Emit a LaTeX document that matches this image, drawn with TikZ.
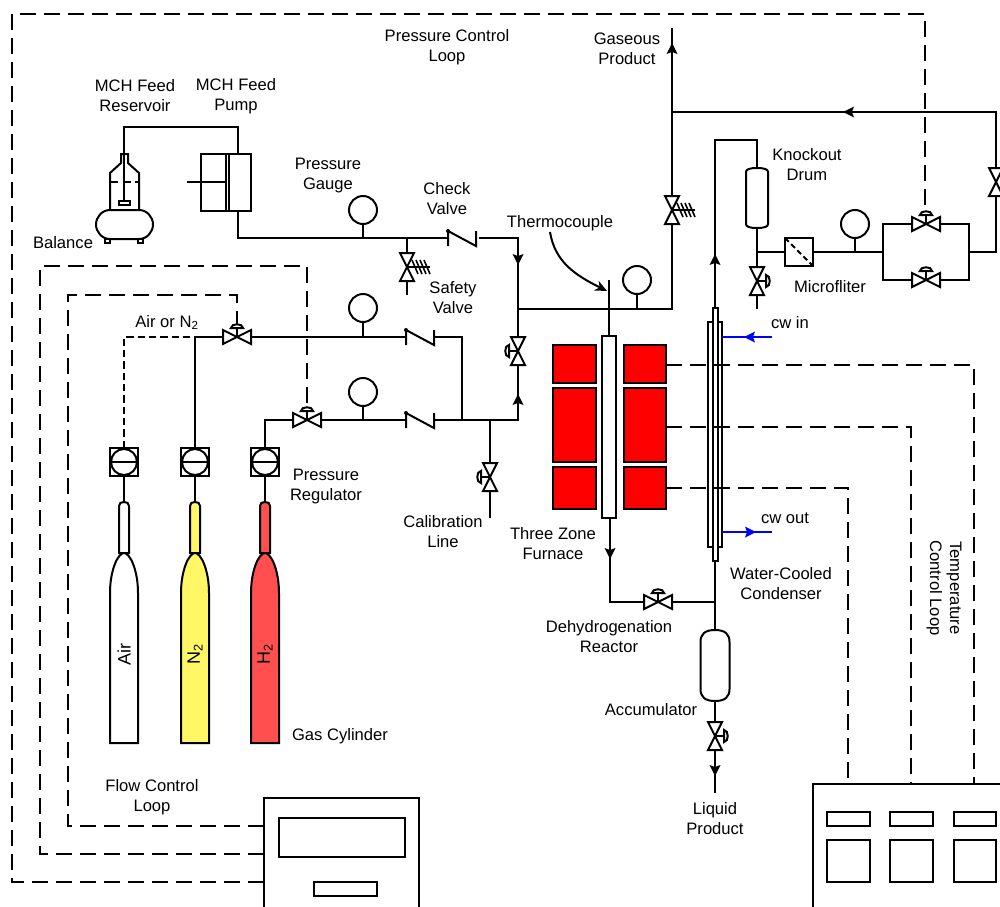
\documentclass[tikz,border=0pt]{standalone}
\usepackage{fontspec}
\setmainfont{Liberation Sans}
\usetikzlibrary{arrows.meta}
\tikzset{
  pipe/.style={line width=1.5pt,line join=miter},
  ctrl/.style={line width=1.5pt,dash pattern=on 12pt off 6pt},
  ctrlshort/.style={line width=1.5pt,dash pattern=on 5.5pt off 3pt},
  equip/.style={line width=1.5pt,fill=white},
  heat/.style={line width=1.5pt,fill=red},
  lbl/.style={inner sep=0pt,align=center,font=\fontsize{12.45}{15}\selectfont},
  gaslbl/.style={inner sep=0pt,rotate=90,font=\fontsize{13.5}{15}\selectfont},
  bowtie/.pic={\draw[equip] (-14,-7)--(14,7)--(14,-7)--(-14,7)--cycle;},
  valveD/.pic={
    \draw[equip] (-14,-7)--(14,7)--(14,-7)--(-14,7)--cycle;
    \draw[pipe] (0,0)--(0,-9);
    \draw[equip] (-6,-9) .. controls (-6,-14) and (6,-14) .. (6,-9) -- cycle;},
  valveS/.pic={
    \draw[equip] (-14,-7)--(14,7)--(14,-7)--(-14,7)--cycle;
    \draw[line width=1.2pt] (0,0)--(0,-23);
    \foreach \q in {-8,-12,-16,-20}{\draw[line width=1.2pt] (-7,\q+3)--(7,\q-3);}},
  tipA/.pic={\fill[pic actions] (0,0)--(-11,-5.5)--(-9,0)--(-11,5.5)--cycle;},
  checkV/.pic={
    \draw[pipe] (0,8)--(0,-7)--(28,8)--(28,-7);
    \fill (0,-7) circle[radius=2];},
  gaugeG/.pic={\draw[equip] (0,0) circle[radius=14];},
  regul/.pic={
    \draw[equip] (-14,-14) rectangle (14,14);
    \draw[equip] (0,0) circle[radius=13];
    \draw[pipe] (-14,0)--(14,0);},
}
\newcommand{\bottle}[4]{%
  \coordinate (#1reg) at (#2,462);
  \coordinate (#1regB) at (#2,476);
  \coordinate (#1neck) at (#2,502);
  \draw[pipe] (#1regB)--(#1neck);
  \draw[equip,fill=#3] (#2-5,553)--(#2-5,506) .. controls (#2-5,503) and (#2-3,502) .. (#2,502)
     .. controls (#2+3,502) and (#2+5,503) .. (#2+5,506)--(#2+5,553)--cycle;
  \draw[equip,fill=#3] (#2-14,743)--(#2-14,593) .. controls (#2-14,570) and (#2-6,553) .. (#2,553)
     .. controls (#2+6,553) and (#2+14,570) .. (#2+14,593)--(#2+14,743)--cycle;
  \pic at (#1reg) {regul};
  \node[gaslbl] (#1txt) at (#2,654) {#4};
}
\begin{document}
\begin{tikzpicture}[x=0.75pt,y=-0.75pt]
\useasboundingbox (0,0) rectangle (1000,907);
\fill[white] (0,0) rectangle (1000,907);
% ---- named points
\coordinate (fR) at (124,154); \coordinate (fA) at (124,127); \coordinate (fB) at (238,127);
\coordinate (fP) at (238,154); \coordinate (fQ) at (238,211); \coordinate (fC) at (238,238);
\coordinate (g1s) at (363,238); \coordinate (g1) at (363,210);
\coordinate (sv) at (407,267); \coordinate (svT) at (407,238); \coordinate (svB) at (407,295);
\coordinate (ck1) at (448,238); \coordinate (ck1R) at (479,238);
\coordinate (mT) at (518,238); \coordinate (mJ) at (518,309); \coordinate (mB) at (518,420);
\coordinate (mV) at (518,351);
\coordinate (h1) at (265,448); \coordinate (h2) at (265,420); \coordinate (ck3) at (406,420); \coordinate (ck3R) at (434,420);
\coordinate (n1) at (195,448); \coordinate (n2) at (195,337); \coordinate (ck2) at (406,337); \coordinate (ck2R) at (434,337);
\coordinate (a1) at (124,448); \coordinate (a2) at (124,337);
\coordinate (j1) at (462,337); \coordinate (j2) at (462,420);
\coordinate (vA) at (237,337); \coordinate (vH) at (307,420);
\coordinate (g2) at (363,308); \coordinate (g2s) at (363,337);
\coordinate (g3) at (363,392); \coordinate (g3s) at (363,420);
\coordinate (cal) at (490,420); \coordinate (calV) at (490,477); \coordinate (calB) at (490,518);
\coordinate (tE) at (672,309); \coordinate (tT) at (672,28); \coordinate (tV) at (672,210);
\coordinate (tJ) at (672,112); \coordinate (rT) at (996,112); \coordinate (rB) at (996,252); \coordinate (rV) at (996,182);
\coordinate (g4) at (637,280); \coordinate (g4s) at (637,309);
\coordinate (tc) at (609,280); \coordinate (tcB) at (609,336); \coordinate (tcJ) at (609,309);
\coordinate (rxB) at (610,518); \coordinate (rxC) at (610,602); \coordinate (cdJ) at (715,602);
\coordinate (vD) at (658,602);
\coordinate (cdT) at (715,308); \coordinate (cdU) at (715,140); \coordinate (kU) at (757,140);
\coordinate (kT) at (757,168); \coordinate (kB) at (757,228); \coordinate (kJ) at (757,252);
\coordinate (kV) at (757,281); \coordinate (kE) at (757,309);
\coordinate (mfL) at (785,252); \coordinate (mfR) at (813,252);
\coordinate (g5) at (855,224); \coordinate (g5s) at (855,252);
\coordinate (bL) at (883,252); \coordinate (bLT) at (883,224); \coordinate (bLB) at (883,280);
\coordinate (bR) at (969,252); \coordinate (bRT) at (969,224); \coordinate (bRB) at (969,280);
\coordinate (vU) at (926,224); \coordinate (vL) at (926,280);
\coordinate (cdB) at (715,561); \coordinate (acT) at (715,630); \coordinate (acB) at (715,700);
\coordinate (acV) at (715,736); \coordinate (acE) at (715,793);
% ---- process lines
\draw[pipe] (fR)--(fA)--(fB)--(fP);
\draw[pipe] (fQ)--(fC)--(ck1);
\draw[pipe] (ck1R)--(mT)--(mB)--(ck3R);
\draw[pipe] (ck3)--(h2)--(h1);
\draw[pipe] (n1)--(n2)--(ck2);
\draw[pipe] (ck2R)--(j1)--(j2);
\draw[pipe] (svT)--(svB);
\draw[pipe] (g1)--(g1s); \draw[pipe] (g2)--(g2s); \draw[pipe] (g3)--(g3s);
\draw[pipe] (cal)--(calB);
\draw[pipe] (mJ)--(tE)--(tT);
\draw[pipe] (tJ)--(rT)--(rB)--(bR);
\draw[pipe] (g4)--(g4s);
\draw[pipe] (tc)--(tcB);
\draw[pipe] (rxB)--(rxC)--(cdJ);
\draw[pipe] (cdT)--(cdU)--(kU)--(kT);
\draw[pipe] (kB)--(kE);
\draw[pipe] (kJ)--(mfL); \draw[pipe] (mfR)--(bL);
\draw[pipe] (g5)--(g5s);
\draw[pipe] (bLT)--(bRT)--(bRB)--(bLB)--cycle;
\draw[pipe] (cdB)--(acT); \draw[pipe] (acB)--(acE);
\draw[ctrlshort] (a1)--(a2)--(n2);
% ---- reservoir and balance
\draw[equip] (110,210)--(110,173)--(121,163)--(121,154)--(128,154)--(128,163)--(139,173)--(139,210);
\draw[pipe] (124,154)--(124,201);
\draw[line width=1.5pt,dash pattern=on 6pt off 3.5pt] (110,182)--(139,182);
\draw[equip] (119,201) rectangle (130,205);
\draw[equip] (110,210)--(139,210) .. controls (147,210) and (153,217) .. (153,224.5)
   .. controls (153,232) and (147,239) .. (139,239)--(110,239)
   .. controls (102,239) and (96,232) .. (96,224.5) .. controls (96,217) and (102,210) .. (110,210)--cycle;
\draw[equip] (105,239) rectangle (110,243); \draw[equip] (138,239) rectangle (143,243);
% ---- pump
\draw[equip] (201,154) rectangle (251,211);
\draw[pipe] (226,154)--(226,211); \draw[pipe] (229,154)--(229,211);
\draw[pipe] (187,182)--(226,182);
% ---- valves
\pic at (vA) {valveD};
\pic at (vH) {valveD};
\pic at (vD) {valveD};
\pic at (vU) {valveD};
\pic at (vL) {valveD};
\pic[rotate=90] at (mV) {valveD};
\pic[rotate=90] at (calV) {valveD};
\pic[rotate=-90] at (kV) {valveD};
\pic[rotate=-90] at (acV) {valveD};
\pic[rotate=-90] at (sv) {valveS};
\pic[rotate=-90] at (tV) {valveS};
\pic[rotate=90] at (rV) {bowtie};
\pic at (ck1) {checkV};
\pic at (ck2) {checkV};
\pic at (ck3) {checkV};
% ---- gauges
\pic at (g1) {gaugeG}; \pic at (g2) {gaugeG}; \pic at (g3) {gaugeG};
\pic at (g4) {gaugeG}; \pic at (g5) {gaugeG};
% ---- arrow heads
\pic[rotate=-90] at (518,265) {tipA};
\pic[rotate=90] at (518,394) {tipA};
\pic[rotate=90] at (672,43) {tipA};
\pic[rotate=180] at (843,112) {tipA};
\pic[rotate=90] at (715,254) {tipA};
\pic[rotate=-90] at (610,559) {tipA};
\pic[rotate=-90] at (715,776) {tipA};
% ---- bottles
\bottle{air}{124}{white}{Air}
\bottle{nit}{195}{yellow!60!white}{N\textsubscript{2}}
\bottle{hyd}{265}{red!69!white}{H\textsubscript{2}}
% ---- furnace and reactor
\draw[heat] (553,345) rectangle (596,383);
\draw[heat] (553,388) rectangle (596,462);
\draw[heat] (553,467) rectangle (596,509);
\draw[heat] (624,345) rectangle (666,383);
\draw[heat] (624,388) rectangle (666,462);
\draw[heat] (624,467) rectangle (666,509);
\draw[equip] (602,336) rectangle (616,518);
% ---- condenser
\draw[equip] (707.5,322) rectangle (722,547);
\draw[equip] (712.5,308) rectangle (717.5,561);
\coordinate (cwiE) at (772,337); \coordinate (cwiS) at (722,337);
\coordinate (cwoS) at (722,532); \coordinate (cwoE) at (772,532);
\draw[pipe,blue] (cwiE)--(cwiS);
\draw[pipe,blue] (cwoS)--(cwoE);
\pic[blue,rotate=180] at (744,337) {tipA};
\pic[blue] at (756,532) {tipA};
% ---- drum, accumulator, filter
\draw[equip] (746,172) .. controls (746,169.5) and (749,168) .. (757,168) .. controls (765,168) and (768,169.5) .. (768,172)
  --(768,224) .. controls (768,226.5) and (765,228) .. (757,228) .. controls (749,228) and (746,226.5) .. (746,224)--cycle;
\draw[equip] (700.5,642) .. controls (700.5,634) and (705,630) .. (715,630) .. controls (725,630) and (729.5,634) .. (729.5,642)
  --(729.5,689) .. controls (729.5,697) and (725,701) .. (715,701) .. controls (705,701) and (700.5,697) .. (700.5,689)--cycle;
\draw[equip] (785,238) rectangle (813,266);
\draw[line width=1.5pt,dash pattern=on 4pt off 2.5pt] (785,238)--(813,266);
% ---- controllers
\coordinate (cL1) at (264,826); \coordinate (cL2) at (264,854); \coordinate (cL3) at (264,882);
\draw[pipe] (264,910)--(264,798)--(419,798)--(419,910);
\draw[pipe] (279,818) rectangle (405,857);
\draw[pipe] (314,882) rectangle (377,896);
\draw[pipe] (813,910)--(813,784)--(1003,784);
\foreach \xa/\xb in {827/869.5,890/933,954/996}{
  \draw[pipe] (\xa,812) rectangle (\xb,826);
  \draw[pipe] (\xa,840) rectangle (\xb,882);
}
\coordinate (cR1) at (848,784); \coordinate (cR2) at (911,784); \coordinate (cR3) at (974,784);
% ---- control loops
\draw[ctrl] (cL3)--(12,882)--(12,14)--(925,14)--(925,211);
\draw[ctrl] (cL2)--(40,854)--(40,266)--(307,266)--(307,408);
\draw[ctrl] (cL1)--(68,826)--(68,295)--(237,295)--(237,325);
\draw[ctrl] (666,365)--(974,365)--(cR3);
\draw[ctrl] (666,427)--(911,427)--(cR2);
\draw[ctrl] (666,488)--(848,488)--(cR1);
% ---- labels
\node[lbl] (t1) at (447,47) {Pressure Control\\Loop};
\node[lbl] (t2) at (627,49) {Gaseous\\Product};
\node[lbl] (t3) at (135,96) {MCH Feed\\Reservoir};
\node[lbl] (t4) at (236,96) {MCH Feed\\Pump};
\node[lbl] (t5) at (328,176) {Pressure\\Gauge};
\node[lbl] (t6) at (447,199) {Check\\Valve};
\node[lbl] (t7) at (560,223) {Thermocouple};
\node[lbl] (t8) at (807,165) {Knockout\\Drum};
\node[lbl] (t9) at (63,243) {Balance};
\node[lbl] (t10) at (453,298) {Safety\\Valve};
\node[lbl] (t11) at (167,322.5) {Air or N\textsubscript{2}};
\node[lbl] (t12) at (830,287) {Microfliter};
\node[lbl] (t13) at (790,323) {cw in};
\node[lbl] (t14) at (785,518) {cw out};
\node[lbl] (t15) at (326,487) {Pressure\\Regulator};
\node[lbl] (t16) at (443,532) {Calibration\\Line};
\node[lbl] (t17) at (553,544) {Three Zone\\Furnace};
\node[lbl] (t18) at (609,637) {Dehydrogenation\\Reactor};
\node[lbl] (t19) at (781,584) {Water-Cooled\\Condenser};
\node[lbl,rotate=-90] (t20) at (944,588) {Temperature\\Control Loop};
\node[lbl] (t21) at (651,710) {Accumulator};
\node[lbl] (t22) at (340,736) {Gas Cylinder};
\node[lbl] (t23) at (152,797) {Flow Control\\Loop};
\node[lbl] (t24) at (715,819) {Liquid\\Product};
% ---- thermocouple pointer
\coordinate (tcS) at (550,232); \coordinate (tcP) at (607,291);
\draw[pipe,-{Stealth[length=9pt,width=8pt]}] (tcS) .. controls (555,262) and (575,275) .. (tcP);
\end{tikzpicture}
\end{document}
